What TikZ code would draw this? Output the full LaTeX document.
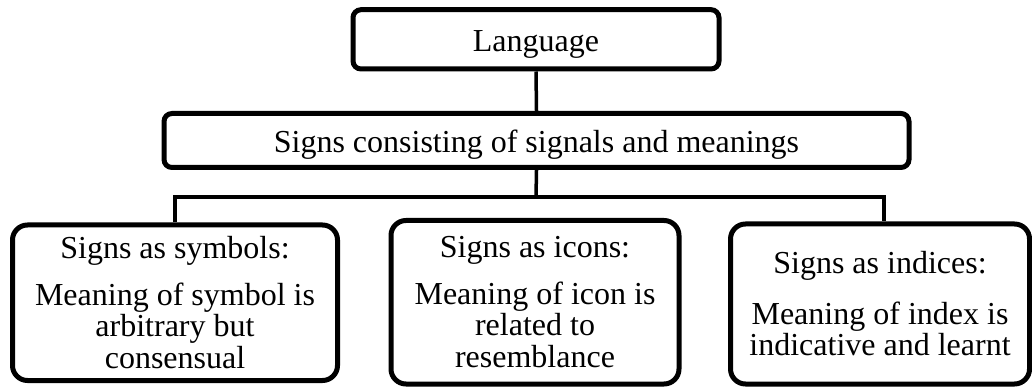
\documentclass[tikz,border=0pt]{standalone}
\usepackage{fontspec}
\setmainfont{Liberation Serif}
\begin{document}
\begin{tikzpicture}[x=1pt,y=-1pt,
  box/.style={draw=black, line width=5pt, inner sep=0pt, fill=white},
  topbox/.style={box, rounded corners=8pt, text height=32pt, text depth=7pt,
    font=\fontsize{32}{38}\selectfont},
  leafbox/.style={box, rounded corners=15pt, align=center,
    font=\fontsize{32}{31.5}\selectfont},
  link/.style={draw=black, line width=3.5pt}]
\useasboundingbox (0,0) rectangle (1032,387);

% upper levels
\node[topbox, minimum width=366pt, minimum height=59.3pt] (lang) at (536,39.35) {Language};
\node[topbox, minimum width=745pt, minimum height=54pt] (signs) at (536.5,140.5)
  {Signs consisting of signals and meanings};

% the three kinds of sign
\node[leafbox, minimum width=325pt, minimum height=155.5pt] (symbols) at (175,302.75)
  {Signs as symbols:\\[15pt]Meaning of symbol is\\arbitrary but\\consensual};
\node[leafbox, minimum width=288pt, minimum height=163.5pt] (icons) at (535,302.25)
  {Signs as icons:\\[15pt]Meaning of icon is\\related to\\resemblance};
\node[leafbox, minimum width=299pt, minimum height=160pt] (indices) at (880,304)
  {Signs as indices:\\[19pt]Meaning of index is\\indicative and learnt};

% connectors
\coordinate (bus) at (536,197);
\draw[link] (lang.south) -- (signs.north);
\draw[link] (signs.south) -- (bus);
\draw[link] (symbols.north) |- (bus) -| ([xshift=4pt]indices.north);
\end{tikzpicture}
\end{document}
